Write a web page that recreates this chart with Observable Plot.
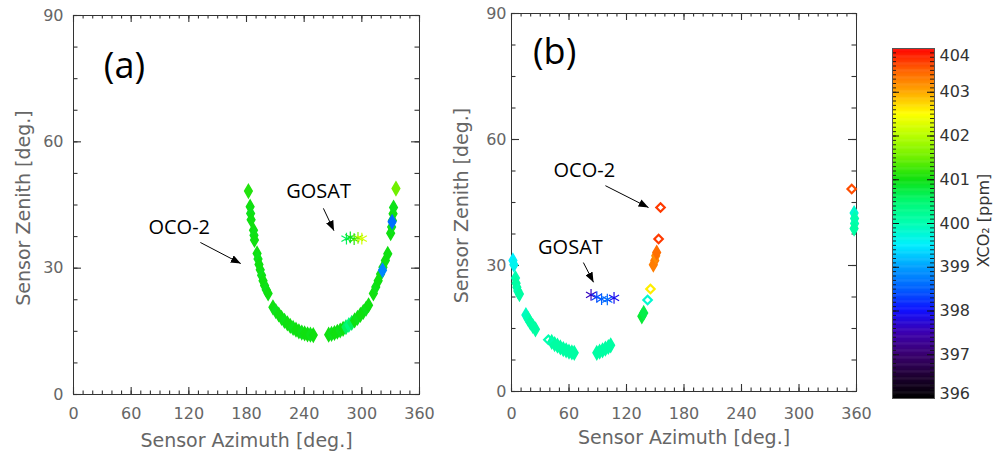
<!DOCTYPE html>
<html><head><meta charset="utf-8">
<script src="https://cdn.jsdelivr.net/npm/d3@7"></script>
<script src="https://cdn.jsdelivr.net/npm/@observablehq/plot@0.6"></script>
<style>
body{margin:0;background:#fff;}
#fig{position:relative;width:995px;height:452px;overflow:hidden;background:#fff;}
#fig svg{position:absolute;top:0;overflow:visible;}
</style></head><body><div id="fig"></div>
<script>
// ---------- data ----------
// Panel (a) OCO-2 soundings
const ocoA_az   = [182,183.8,184.3,184.8,187.3,187.8,188.3,191,192,193,194.3,195.7,197.2,198.8,200.5,202.5,
  207.5,210.5,213.5,216.5,219.5,222.5,225.5,228.5,231.5,234.5,237.5,240.5,243.5,246.5,249.5,
  265.5,268.5,271.5,274.5,277.5,280.5,283.5,286.5,289.5,292.5,295.5,298.5,301.5,304.5,307,
  312,314.5,317,319.5,322,324.5,327,330,331,331.8,332.5,333,335.5,331.5,321.5];
const ocoA_zen  = [48.3,44.6,43.0,41.5,39.0,37.8,36.7,33.5,32.2,30.9,29.6,28.3,27.0,25.9,24.9,24.0,
  20.7,19.8,19.0,18.2,17.5,16.9,16.3,15.8,15.4,15.0,14.7,14.5,14.3,14.2,14.1,
  14.2,14.4,14.6,14.9,15.2,15.6,16.0,16.5,17.0,17.6,18.2,18.9,19.6,20.4,21.2,
  24.0,25.5,27.0,28.6,30.2,31.8,33.4,38.3,39.8,41.3,42.9,44.4,48.9,41.0,29.5];
const ocoA_xco2 = [401.1,401.0,400.95,401.0,401.0,400.95,401.0,401.0,400.95,401.0,401.0,400.95,401.0,401.0,400.95,401.0,
  401.0,400.95,401.0,401.0,400.95,401.0,401.0,400.95,401.0,401.0,400.95,401.0,401.0,400.95,401.0,
  401.0,400.95,401.0,401.0,400.95,401.0,400.6,400.4,400.6,401.0,400.95,401.0,401.0,400.95,401.0,
  401.0,400.95,401.0,401.0,400.95,401.0,401.0,401.0,400.95,401.0,401.0,400.95,401.5,398.6,398.8];
// Panel (a) GOSAT soundings
const gosatA_az   = [284,288,292,296,300];
const gosatA_zen  = [37.0,37.3,36.9,37.2,37.0];
const gosatA_xco2 = [400.6,400.9,401.1,401.6,402.2];

// Panel (b) OCO-2 soundings (solid symbols)
const ocoB_az   = [1.5,2.5,4.2,4.8,5.6,6.6,8.3,15,17.3,19.7,22.2,25,
  42,45,48,51,54,57,60,63,65.5,89,92,95,98,101,103.5,
  136,138,148,149.5,150.5,151.5,357.5,358,358,357.5];
const ocoB_zen  = [31.2,30.2,27.0,25.8,24.8,23.9,23.2,18.2,17.3,16.4,15.6,14.8,
  11.8,11.3,10.9,10.5,10.1,9.8,9.5,9.3,9.2,9.2,9.5,9.8,10.2,10.6,11.0,
  17.9,18.7,30.2,31.2,32.3,33.1,42.5,41.2,40.0,38.8];
const ocoB_xco2 = [399.5,399.6,400.0,400.1,400.1,400.0,400.1,399.9,400.0,400.1,400.1,400.1,
  400.1,400.1,400.1,400.1,400.1,400.1,400.1,400.1,400.1,400.1,400.1,400.1,400.1,400.1,400.1,
  400.8,400.7,403.3,403.3,403.2,403.4,399.8,400.0,400.0,400.1];
// Panel (b) OCO-2 soundings (isolated, drawn hollow)
const ocoB_open_az   = [38.5,142,145,153.5,155.5,355];
const ocoB_open_zen  = [12.3,21.8,24.4,36.3,43.8,48.2];
const ocoB_open_xco2 = [400.0,399.8,402.6,403.7,403.7,403.6];
// Panel (b) GOSAT soundings
const gosatB_az   = [83,89,94,100,107];
const gosatB_zen  = [23.0,22.5,22.0,21.9,22.3];
const gosatB_xco2 = [397.6,398.3,398.5,398.6,397.9];

// Axis ticks and labels
const xTickLabels = [0,60,120,180,240,300,360];
const xMinorTicks = d3.range(0,361,10);
const yTickLabels = [0,30,60,90];
const yMinorTicks = [0,7.5,15,22.5,30,37.5,45,52.5,60,67.5,75,82.5,90];
const xTitle = "Sensor Azimuth [deg.]";
const yTitle = "Sensor Zenith [deg.]";

// Annotations (data units)
const panelLabels = ["(a)","(b)"];
const panelLabelX = [53,45];
const panelLabelY = [78,80.7];
const annA_text = ["OCO-2","GOSAT"]; const annA_x = [110,255];  const annA_y = [39.7,48.3];
const annB_text = ["OCO-2","GOSAT"]; const annB_x = [76,61.5];  const annB_y = [52.6,34.3];
const arrA_x1 = [132,260], arrA_y1 = [36.1,44.2], arrA_x2 = [174,271], arrA_y2 = [31.1,38.9];
const arrB_x1 = [98,75],   arrB_y1 = [49,30.7],   arrB_x2 = [143,85.6], arrB_y2 = [43.8,26];

// Colour bar
const cbStops  = [396,396.5,397,397.5,398,398.5,399,399.5,400,400.5,401,401.5,402,402.5,403,403.5,404];
const cbColors = ["#000000","#1e0032","#3a0070","#3c00b0","#1010ff","#0060ff","#00a0ff","#00f0ff",
  "#00ffb0","#00f870","#10e010","#70f000","#b8ff00","#ffff00","#ffa800","#ff6000","#ff0000"];
const cbLabels = [396,397,398,399,400,401,402,403,404];
const cbTitle = "XCO\u2082 [ppm]";

// ---------- build ----------
const colorScale = {type:"linear", domain:cbStops, range:cbColors, interpolate:"rgb"};
const zip = (a,b,c) => a.map((v,i)=>({az:v, zen:b[i], xco2:c[i]}));
const mkArr = (x1,y1,x2,y2) => x1.map((v,i)=>({x1:v,y1:y1[i],x2:x2[i],y2:y2[i]}));
const mkAnn = (t,x,y) => t.map((v,i)=>({t:v,x:x[i],y:y[i]}));
const fig = document.getElementById("fig");
const axisGray = "#666";
const frameCol = "#333";

function addArrowheads(svg, id){
  const ns="http://www.w3.org/2000/svg";
  const defs=document.createElementNS(ns,"defs");
  const m=document.createElementNS(ns,"marker");
  m.setAttribute("id",id); m.setAttribute("viewBox","0 0 10 8");
  m.setAttribute("refX","10"); m.setAttribute("refY","4");
  m.setAttribute("markerWidth","10"); m.setAttribute("markerHeight","8");
  m.setAttribute("markerUnits","userSpaceOnUse"); m.setAttribute("orient","auto");
  const p=document.createElementNS(ns,"path"); p.setAttribute("d","M0,0L10,4L0,8Z"); p.setAttribute("fill","#000");
  m.appendChild(p); defs.appendChild(m); svg.insertBefore(defs, svg.firstChild);
  svg.querySelectorAll('g[aria-label="link"] path').forEach(e=>e.setAttribute("marker-end",`url(#${id})`));
}

function panel(o){
  const W=440, H=452;
  const fw = W-o.ml-o.mr, fh = H-o.mt-o.mb;
  const kx = 360/fw, ky = 90/fh;           // data units per pixel
  const tick = (vals, len, axis) => axis==="x"
    ? [Plot.ruleX(vals,{x:d=>d, y1:0, y2:len*ky, stroke:frameCol, strokeWidth:1.1}),
       Plot.ruleX(vals,{x:d=>d, y1:90-len*ky, y2:90, stroke:frameCol, strokeWidth:1.1})]
    : [Plot.ruleY(vals,{y:d=>d, x1:0, x2:len*kx, stroke:frameCol, strokeWidth:1.1}),
       Plot.ruleY(vals,{y:d=>d, x1:360-len*kx, x2:360, stroke:frameCol, strokeWidth:1.1})];
  const svg = Plot.plot({
    width:W, height:H, marginLeft:o.ml, marginRight:o.mr, marginTop:o.mt, marginBottom:o.mb,
    style:{background:"transparent", fontFamily:"DejaVu Sans"},
    x:{domain:[0,360], axis:null}, y:{domain:[0,90], axis:null},
    color: colorScale,
    marks:[
      ...tick(xMinorTicks,3.5,"x"), ...tick(xTickLabels,7,"x"),
      ...tick(yMinorTicks,4.5,"y"), ...tick(yTickLabels,8,"y"),
      Plot.frame({stroke:frameCol, strokeWidth:1}),
      Plot.text(xTickLabels,{x:d=>d, text:d=>String(d), frameAnchor:"bottom", dy:o.xdy, lineAnchor:"middle", textAnchor:"middle", fill:axisGray, fontSize:16}),
      Plot.text(yTickLabels,{y:d=>d, text:d=>String(d), frameAnchor:"left", dx:-o.ydx, textAnchor:"end", lineAnchor:"middle", fill:axisGray, fontSize:16}),
      Plot.text([xTitle],{text:d=>d, frameAnchor:"bottom", dy:46, lineAnchor:"middle", textAnchor:"middle", fill:axisGray, fontSize:19}),
      Plot.text([yTitle],{text:d=>d, frameAnchor:"left", dx:-50, dy:3, rotate:-90, textAnchor:"middle", lineAnchor:"middle", fill:axisGray, fontSize:19}),
      Plot.dot(o.oco,{x:"az", y:"zen", fill:"xco2", stroke:"xco2", symbol:"diamond", r:4, strokeWidth:1.5}),
      Plot.dot(o.open,{x:"az", y:"zen", stroke:"xco2", symbol:"diamond2", r:3.8, strokeWidth:2.2}),
      Plot.dot(o.gosat,{x:"az", y:"zen", stroke:"xco2", symbol:"asterisk", r:5.5, strokeWidth:1.2}),
      Plot.text([o.label],{x:o.lx, y:o.ly, text:d=>d, fontSize:36, fontFamily:"Open Sans", fill:"#000"}),
      Plot.text(o.ann,{x:"x", y:"y", text:"t", fontSize:20, fontFamily:"Open Sans", fill:"#000"}),
      Plot.link(o.arr,{x1:"x1", y1:"y1", x2:"x2", y2:"y2", stroke:"#000", strokeWidth:1})
    ]
  });
  addArrowheads(svg, o.id);
  svg.style.left = o.left+"px";
  fig.appendChild(svg);
}

panel({id:"ahA", left:0, ml:73, mr:21, mt:15, mb:58, xdy:19, ydx:10,
  oco:zip(ocoA_az,ocoA_zen,ocoA_xco2), open:[], gosat:zip(gosatA_az,gosatA_zen,gosatA_xco2),
  label:panelLabels[0], lx:panelLabelX[0], ly:panelLabelY[0],
  ann:mkAnn(annA_text,annA_x,annA_y), arr:mkArr(arrA_x1,arrA_y1,arrA_x2,arrA_y2)});
panel({id:"ahB", left:440, ml:71, mr:24, mt:13, mb:61, xdy:22, ydx:5,
  oco:zip(ocoB_az,ocoB_zen,ocoB_xco2), open:zip(ocoB_open_az,ocoB_open_zen,ocoB_open_xco2),
  gosat:zip(gosatB_az,gosatB_zen,gosatB_xco2),
  label:panelLabels[1], lx:panelLabelX[1], ly:panelLabelY[1],
  ann:mkAnn(annB_text,annB_x,annB_y), arr:mkArr(arrB_x1,arrB_y1,arrB_x2,arrB_y2)});

// colour bar
(function(){
  const step = 0.02;
  const steps = d3.range(396,404,step);
  const minor = d3.range(3960,4041,1).map(d=>d/10);
  const bw = 42, k = 1/bw;
  const inner = cbLabels.filter(d=>d!==396 && d!==404);
  const svg = Plot.plot({
    width:115, height:452, marginLeft:12, marginRight:61, marginTop:48, marginBottom:54,
    style:{background:"transparent", fontFamily:"DejaVu Sans"},
    x:{domain:[0,1], axis:null}, y:{domain:[396,404], axis:null},
    color: colorScale,
    marks:[
      Plot.rect(steps,{x1:0, x2:1, y1:d=>d, y2:d=>Math.min(404,d+step*1.6), fill:d=>d+step/2}),
      Plot.ruleY(minor,{y:d=>d, x1:0, x2:4*k, stroke:"#111", strokeWidth:0.9}),
      Plot.ruleY(minor,{y:d=>d, x1:1-4*k, x2:1, stroke:"#111", strokeWidth:0.9}),
      Plot.ruleY(cbLabels,{y:d=>d, x1:0, x2:7*k, stroke:"#111"}),
      Plot.ruleY(cbLabels,{y:d=>d, x1:1-7*k, x2:1, stroke:"#111"}),
      Plot.frame({stroke:"#555"}),
      Plot.text(inner,{y:d=>d, text:d=>String(d), frameAnchor:"right", dx:5, textAnchor:"start", lineAnchor:"middle", fill:"#333", fontSize:16}),
      Plot.text([404],{y:d=>d, text:d=>String(d), frameAnchor:"right", dx:5, dy:7, textAnchor:"start", lineAnchor:"middle", fill:"#333", fontSize:16}),
      Plot.text([396],{y:d=>d, text:d=>String(d), frameAnchor:"right", dx:5, dy:-5, textAnchor:"start", lineAnchor:"middle", fill:"#333", fontSize:16}),
      Plot.text([cbTitle],{text:d=>d, frameAnchor:"right", dx:49, dy:-3, rotate:-90, textAnchor:"middle", lineAnchor:"middle", fill:"#333", fontSize:16})
    ]
  });
  svg.style.left = "880px";
  fig.appendChild(svg);
})();
</script></body></html>
